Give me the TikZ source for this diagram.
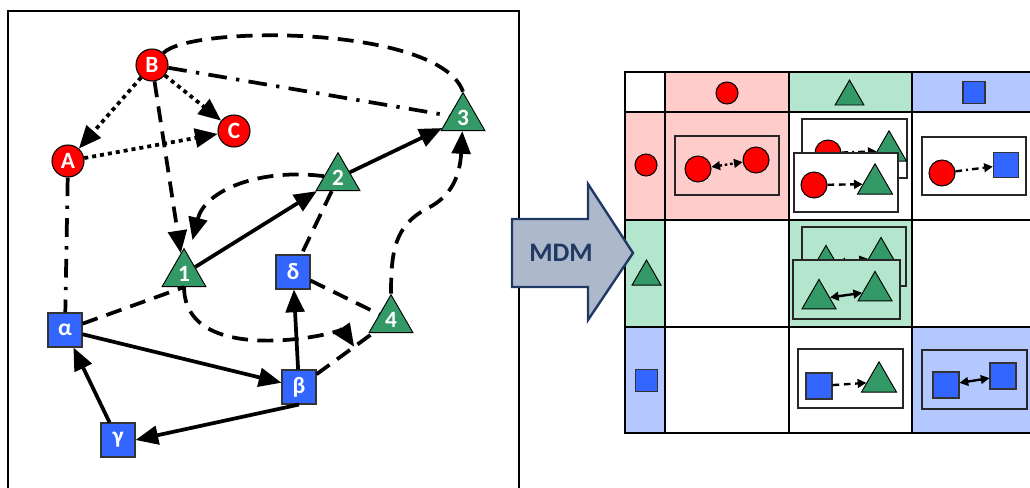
\documentclass[tikz,border=0pt]{standalone}
\usepackage{fontspec}
\setsansfont{Carlito}
\usetikzlibrary{shapes.geometric,arrows.meta,calc}
\definecolor{redn}{HTML}{FF0000}
\definecolor{greenn}{HTML}{339966}
\definecolor{bluen}{HTML}{3366FF}
\definecolor{pinkc}{HTML}{FFCCCC}
\definecolor{greenc}{HTML}{B3E6CD}
\definecolor{bluec}{HTML}{B4C7FF}
\definecolor{navy}{HTML}{1F3864}
\definecolor{mdmfill}{HTML}{ADB9CA}
\tikzset{
	circ/.style={circle,draw=black,line width=0.8pt,fill=redn,inner sep=0pt,minimum size=#1},
	tri/.style={regular polygon,regular polygon sides=3,draw=black,line width=0.7pt,fill=greenn,inner sep=0pt,minimum size=#1},
	sq/.style={rectangle,draw=black!80,line width=0.8pt,fill=bluen,inner sep=0pt,minimum size=#1},
	lbl/.style={text=white,font=\sffamily\bfseries\fontsize{17.5}{17.5}\selectfont},
	solidln/.style={line width=2.8pt,-{Triangle[length=17pt,width=14pt]}},
	dshln/.style={line width=2.8pt,dash pattern={on 12pt off 7pt}},
	dotln/.style={line width=2.8pt,dash pattern={on 3pt off 3pt}},
	ddln/.style={line width=2.8pt,dash pattern={on 14pt off 7pt on 2.5pt off 7pt}},
	tip/.style={-{Triangle[length=17pt,width=14pt]}},
	ibox/.style={draw=black!85,line width=1.1pt},
	mini/.style={line width=1.8pt},
	minitip/.style={-{Triangle[length=6.5pt,width=6.5pt]}},
	minitips/.style={{Triangle[length=6.5pt,width=6.5pt]}-{Triangle[length=6.5pt,width=6.5pt]}},
}
\begin{document}
\begin{tikzpicture}[x=0.75pt,y=0.75pt,yscale=-1,xscale=1]
		\useasboundingbox (0,0) rectangle (1030,488);
		\draw[line width=1.1pt] (8,11) rectangle (519,500);
		\node[circ=24pt,lbl] (nB) at (152,65) {B};
		\node[circ=24pt,lbl] (nC) at (234,131) {C};
		\node[circ=24pt,lbl] (nA) at (68,161) {A};
		\node[tri=38pt,lbl] (t3) at (463,118) {3};
		\node[tri=38pt,lbl] (t2) at (338,178) {2};
		\node[tri=38pt,lbl] (t1) at (184,274) {1};
		\node[tri=38pt,lbl] (t4) at (391,320) {4};
		\node[sq=25.5pt,lbl] (d) at (293,272) {δ};
		\node[sq=25.5pt,lbl] (a) at (65,330) {α};
		\node[sq=25.5pt,lbl] (b) at (299,387) {β};
		\node[sq=25.5pt,lbl] (g) at (118,440) {γ};
		\coordinate (hit) at ($(b)!0.6!(t4)$);
		\draw[dotln,tip] (nB) -- (nA);
		\draw[dotln,tip] (nB) -- (nC);
		\draw[dotln,tip] (nA) -- (nC);
		\draw[ddln] (nB) -- (t3);
		\draw[dshln] (nB) .. controls (190,25) and (440,25) .. (t3.corner 1);
		\draw[dshln,tip] (nB) -- (t1);
		\draw[dshln,tip,shorten >=12pt] (t2) .. controls (260,168) and (205,190) .. (t1);
		\draw[solidln] (t1) -- (t2);
		\draw[solidln] (t2) -- (t3);
		\draw[dshln] (t2) -- (d);
		\draw[dshln,tip] (t4) .. controls (391,250) and (395,225) .. (428,208) .. controls (452,196) and (460,175) .. (t3);
		\draw[ddln] (nA) -- (a);
		\draw[dshln] (a) -- (t1.side 2);
		\draw[dshln,tip] (t1.side 2) .. controls (185,370) and (345,333) .. (hit);
		\draw[dshln] (d) -- (t4);
		\draw[solidln] (b) -- (d);
		\draw[solidln] (a) -- (b);
		\draw[solidln] (b.south) -- (g.east);
		\draw[solidln] (g) -- (a);
		\draw[dshln] (b) -- (t4);
		\fill[pinkc] (665,72) rectangle (789,112) (625,112) rectangle (789,220);
		\fill[greenc] (789,72) rectangle (912,112) (625,220) rectangle (665,327) (789,220) rectangle (912,327);
		\fill[bluec] (912,72) rectangle (1040,112) (625,327) rectangle (665,433) (912,327) rectangle (1040,433);
		\foreach \x in {665,789,912} \draw[line width=1.3pt] (\x,72) -- (\x,433);
		\foreach \y in {112,220,327} \draw[line width=1.3pt] (625,\y) -- (1040,\y);
		\draw[line width=2.2pt] (625,72) rectangle (1040,433);
		\node[circ=16.5pt] (hc) at (727,93) {};
		\node[tri=25pt] (ht) at (849.5,96.7) {};
		\node[sq=16.5pt] (hs) at (974,92.5) {};
		\node[circ=16.5pt] (rc) at (646,165) {};
		\node[tri=25pt] (rt) at (646.5,276.7) {};
		\node[sq=16.5pt] (rs) at (646.5,380.5) {};
		\draw[ibox,fill=pinkc] (675,136) rectangle (779,195);
		\node[circ=19.5pt] (cc1) at (698,169) {};
		\node[circ=19.5pt] (cc2) at (756,160) {};
		\draw[mini,minitips,dash pattern={on 2pt off 2pt}] (cc1) -- (cc2);
		\draw[ibox,fill=white] (802,119) rectangle (907,178);
		\node[circ=19.5pt] (ctc) at (828,153) {};
		\node[tri=30.3pt] (ctt) at (889,151) {};
		\draw[mini,minitip,dash pattern={on 5pt off 3pt on 1.5pt off 3pt}] (ctc) -- (ctt);
		\draw[ibox,fill=white] (794,153) rectangle (898,212);
		\node[circ=19.5pt] (ctc2) at (814,185) {};
		\node[tri=30.3pt] (ctt2) at (875,184) {};
		\draw[mini,minitip,dash pattern={on 5pt off 3.5pt}] (ctc2) -- (ctt2);
		\draw[ibox,fill=white] (922,137) rectangle (1026,195);
		\node[circ=19.5pt] (csc) at (942,173) {};
		\node[sq=19pt] (css) at (1006,165) {};
		\draw[mini,minitip,dash pattern={on 5pt off 3pt on 1.5pt off 3pt}] (csc) -- (css);
		\draw[ibox,fill=greenc] (802,227) rectangle (906,286);
		\node[tri=29.4pt] (tt1) at (826,265) {};
		\node[tri=29.4pt] (tt2) at (881,257) {};
		\draw[mini,minitips,dash pattern={on 5pt off 3.5pt}] (tt1) -- (tt2);
		\draw[ibox,fill=greenc] (793,260) rectangle (900,319);
		\node[tri=29.4pt] (tt3) at (819,299) {};
		\node[tri=29.4pt] (tt4) at (875,291) {};
		\draw[mini,minitips] (tt3) -- (tt4);
		\draw[ibox,fill=white] (798,349) rectangle (903,408);
		\node[sq=19.5pt] (sts) at (819,386) {};
		\node[tri=30.3pt] (stt) at (879,382) {};
		\draw[mini,minitip,dash pattern={on 5pt off 3.5pt}] (sts) -- (stt);
		\draw[ibox,fill=bluec] (922,350) rectangle (1027,409);
		\node[sq=19.5pt] (ss1) at (946,385) {};
		\node[sq=19.5pt] (ss2) at (1003,376) {};
		\draw[mini,minitips] (ss1) -- (ss2);
		\draw[navy,line width=1.8pt,fill=mdmfill] (512,219) -- (588,219) -- (588,184) -- (633,253) -- (588,320) -- (588,287) -- (512,287) -- cycle;
		\node[text=navy,font=\sffamily\bfseries\fontsize{20}{20}\selectfont] (mdm) at (561,253) {MDM};
		\end{tikzpicture}
\end{document}
